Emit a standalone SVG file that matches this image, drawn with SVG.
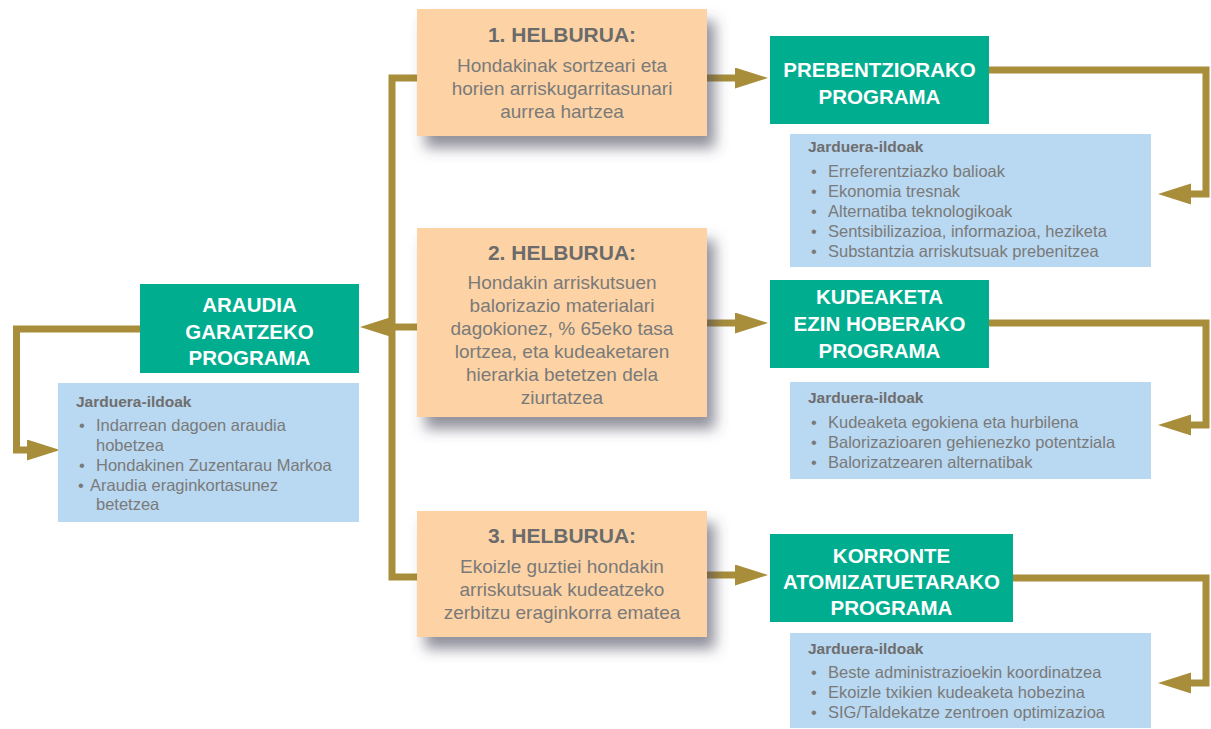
<svg xmlns="http://www.w3.org/2000/svg" width="1211" height="729" viewBox="0 0 1211 729">
<defs>
<marker id="ah" markerUnits="userSpaceOnUse" markerWidth="34" markerHeight="22" refX="1" refY="10.5" orient="auto">
<path d="M0,0 L33,10.5 L0,21 Z" fill="#a88e3a"/>
</marker>
<filter id="sh" x="-10%" y="-10%" width="130%" height="140%">
<feDropShadow dx="8" dy="12" stdDeviation="7" flood-color="#4a4a5a" flood-opacity="0.6"/>
</filter>
<style>
.ln{fill:none;stroke:#a88e3a;stroke-width:7;stroke-linejoin:miter}
.ar{marker-end:url(#ah)}
.goal{fill:#fdd3a5;filter:url(#sh)}
.prog{fill:#00ad8f}
.act{fill:#b9d8f1}
.pt{font-family:"Liberation Sans",Arial,sans-serif;font-weight:bold;font-size:20.5px;fill:#ffffff;text-anchor:middle}
.gt{font-family:"Liberation Sans",Arial,sans-serif;font-weight:bold;font-size:21px;fill:#6b6b6b;text-anchor:middle}
.gb{font-family:"Liberation Sans",Arial,sans-serif;font-size:19px;fill:#7a7a7a;text-anchor:middle}
.ah{font-family:"Liberation Sans",Arial,sans-serif;font-weight:bold;font-size:15.5px;fill:#6e6e6e}
.ai{font-family:"Liberation Sans",Arial,sans-serif;font-size:16.5px;fill:#7a7a7a}
</style>
</defs>
<rect width="1211" height="729" fill="#ffffff"/>
<g id="connectors">
<path class="ln" d="M417,78 H392 V577 H417"/>
<path class="ln ar" d="M417,327 H392"/>
<path class="ln ar" d="M707,78 H736"/>
<path class="ln ar" d="M707,323 H736"/>
<path class="ln ar" d="M707,575 H736"/>
<path class="ln ar" d="M140,329 H16.5 V450 H28"/>
<path class="ln ar" d="M989,70 H1206 V194 H1190"/>
<path class="ln ar" d="M989,323 H1206 V425 H1190"/>
<path class="ln ar" d="M1013,578 H1206 V683 H1190"/>
</g>
<g id="araudia">
<rect class="prog" x="140" y="284" width="219" height="89"/>
<text class="pt" x="249.5" y="312">ARAUDIA</text>
<text class="pt" x="249.5" y="339">GARATZEKO</text>
<text class="pt" x="249.5" y="365">PROGRAMA</text>
</g>
<g id="araudia-ildoak">
<rect class="act" x="58" y="383" width="301" height="139"/>
<text class="ah" x="76" y="407">Jarduera-ildoak</text>
<text class="ai" x="79" y="431">•</text><text class="ai" x="96" y="431">Indarrean dagoen araudia</text>
<text class="ai" x="96" y="451">hobetzea</text>
<text class="ai" x="79" y="471">•</text><text class="ai" x="96" y="471">Hondakinen Zuzentarau Markoa</text>
<text class="ai" x="78" y="491">•</text><text class="ai" x="90" y="491">Araudia eraginkortasunez</text>
<text class="ai" x="96" y="510">betetzea</text>
</g>
<g id="helburua1">
<rect class="goal" x="417" y="9" width="290" height="127"/>
<text class="gt" x="562" y="42">1. HELBURUA:</text>
<text class="gb" x="562" y="72">Hondakinak sortzeari eta</text>
<text class="gb" x="562" y="95">horien arriskugarritasunari</text>
<text class="gb" x="562" y="118">aurrea hartzea</text>
</g>
<g id="helburua2">
<rect class="goal" x="417" y="228" width="290" height="189"/>
<text class="gt" x="562" y="260">2. HELBURUA:</text>
<text class="gb" x="562" y="289">Hondakin arriskutsuen</text>
<text class="gb" x="562" y="312">balorizazio materialari</text>
<text class="gb" x="562" y="335">dagokionez, % 65eko tasa</text>
<text class="gb" x="562" y="358">lortzea, eta kudeaketaren</text>
<text class="gb" x="562" y="381">hierarkia betetzen dela</text>
<text class="gb" x="562" y="404">ziurtatzea</text>
</g>
<g id="helburua3">
<rect class="goal" x="417" y="511" width="290" height="126"/>
<text class="gt" x="562" y="543">3. HELBURUA:</text>
<text class="gb" x="562" y="573">Ekoizle guztiei hondakin</text>
<text class="gb" x="562" y="596">arriskutsuak kudeatzeko</text>
<text class="gb" x="562" y="619">zerbitzu eraginkorra ematea</text>
</g>
<g id="prebentzio">
<rect class="prog" x="770" y="36" width="219" height="88"/>
<text class="pt" x="879.5" y="77">PREBENTZIORAKO</text>
<text class="pt" x="879.5" y="104">PROGRAMA</text>
</g>
<g id="prebentzio-ildoak">
<rect class="act" x="790" y="134" width="361" height="133"/>
<text class="ah" x="808" y="152">Jarduera-ildoak</text>
<text class="ai" x="811" y="177">•</text><text class="ai" x="828" y="177">Erreferentziazko balioak</text>
<text class="ai" x="811" y="197">•</text><text class="ai" x="828" y="197">Ekonomia tresnak</text>
<text class="ai" x="811" y="217">•</text><text class="ai" x="828" y="217">Alternatiba teknologikoak</text>
<text class="ai" x="811" y="237">•</text><text class="ai" x="828" y="237">Sentsibilizazioa, informazioa, heziketa</text>
<text class="ai" x="811" y="257">•</text><text class="ai" x="828" y="257">Substantzia arriskutsuak prebenitzea</text>
</g>
<g id="kudeaketa">
<rect class="prog" x="770" y="280" width="219" height="88"/>
<text class="pt" x="879.5" y="304">KUDEAKETA</text>
<text class="pt" x="879.5" y="331">EZIN HOBERAKO</text>
<text class="pt" x="879.5" y="358">PROGRAMA</text>
</g>
<g id="kudeaketa-ildoak">
<rect class="act" x="790" y="382" width="361" height="97"/>
<text class="ah" x="808" y="403">Jarduera-ildoak</text>
<text class="ai" x="811" y="428">•</text><text class="ai" x="828" y="428">Kudeaketa egokiena eta hurbilena</text>
<text class="ai" x="811" y="448">•</text><text class="ai" x="828" y="448">Balorizazioaren gehienezko potentziala</text>
<text class="ai" x="811" y="468">•</text><text class="ai" x="828" y="468">Balorizatzearen alternatibak</text>
</g>
<g id="korronte">
<rect class="prog" x="770" y="534" width="243" height="88"/>
<text class="pt" x="891.5" y="563">KORRONTE</text>
<text class="pt" x="891.5" y="589">ATOMIZATUETARAKO</text>
<text class="pt" x="891.5" y="615">PROGRAMA</text>
</g>
<g id="korronte-ildoak">
<rect class="act" x="790" y="633" width="361" height="95"/>
<text class="ah" x="808" y="654">Jarduera-ildoak</text>
<text class="ai" x="811" y="678">•</text><text class="ai" x="828" y="678">Beste administrazioekin koordinatzea</text>
<text class="ai" x="811" y="698">•</text><text class="ai" x="828" y="698">Ekoizle txikien kudeaketa hobezina</text>
<text class="ai" x="811" y="718">•</text><text class="ai" x="828" y="718">SIG/Taldekatze zentroen optimizazioa</text>
</g>
</svg>
